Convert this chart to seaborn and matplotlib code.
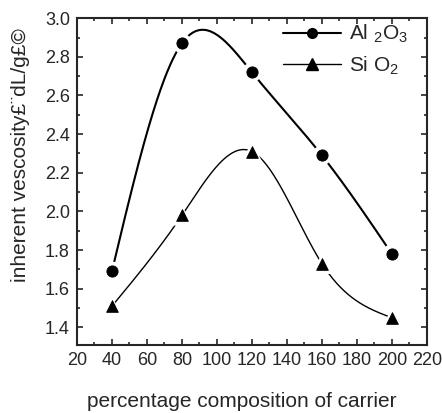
import numpy as np
import pandas as pd
import matplotlib
matplotlib.use("Agg")
import matplotlib.pyplot as plt
import seaborn as sns
from matplotlib.lines import Line2D
from matplotlib.ticker import MultipleLocator

sns.set_style("ticks")
plt.rcParams['font.family'] = ['Liberation Sans', 'DejaVu Sans']
plt.rcParams['mathtext.fontset'] = 'custom'
plt.rcParams['mathtext.rm'] = 'Liberation Sans'
plt.rcParams['mathtext.it'] = 'Liberation Sans'

composition = [40, 80, 120, 160, 200]
al2o3 = [1.69, 2.87, 2.72, 2.29, 1.78]
sio2 = [1.51, 1.98, 2.31, 1.73, 1.45]
x_ticks = [20, 40, 60, 80, 100, 120, 140, 160, 180, 200, 220]
y_ticks = [1.4, 1.6, 1.8, 2.0, 2.2, 2.4, 2.6, 2.8, 3.0]


def natural_spline(x, y, n=300):
    x = np.asarray(x, float)
    y = np.asarray(y, float)
    k = len(x)
    h = np.diff(x)
    A = np.zeros((k, k))
    b = np.zeros(k)
    A[0, 0] = 1
    A[-1, -1] = 1
    for i in range(1, k - 1):
        A[i, i - 1] = h[i - 1]
        A[i, i] = 2 * (h[i - 1] + h[i])
        A[i, i + 1] = h[i]
        b[i] = 6 * ((y[i + 1] - y[i]) / h[i] - (y[i] - y[i - 1]) / h[i - 1])
    M = np.linalg.solve(A, b)
    xs = np.linspace(x[0], x[-1], n)
    ys = np.empty_like(xs)
    for j, xv in enumerate(xs):
        i = min(np.searchsorted(x, xv, side='right') - 1, k - 2)
        t1 = x[i + 1] - xv
        t0 = xv - x[i]
        ys[j] = (M[i] * t1 ** 3 / (6 * h[i]) + M[i + 1] * t0 ** 3 / (6 * h[i])
                 + (y[i] / h[i] - M[i] * h[i] / 6) * t1
                 + (y[i + 1] / h[i] - M[i + 1] * h[i] / 6) * t0)
    return xs, ys


fig = plt.figure(figsize=(4.42, 4.13), dpi=100)
ax = fig.add_axes([0.174, 0.165, 0.792, 0.791])

xs, ys = natural_spline(composition, al2o3)
sns.lineplot(x=xs, y=ys, ax=ax, color='black', linewidth=1.5, sort=False)
xs2, ys2 = natural_spline(composition, sio2)
sns.lineplot(x=xs2, y=ys2, ax=ax, color='black', linewidth=1.0, sort=False)

# white halos to create gaps around markers
sns.scatterplot(x=composition, y=al2o3, ax=ax, marker='o', s=200, color='white',
                edgecolor='none', zorder=3)
sns.scatterplot(x=composition, y=sio2, ax=ax, marker='^', s=220, color='white',
                edgecolor='none', zorder=3)
sns.scatterplot(x=composition, y=al2o3, ax=ax, marker='o', s=65, color='black',
                edgecolor='black', zorder=4)
sns.scatterplot(x=composition, y=sio2, ax=ax, marker='^', s=70, color='black',
                edgecolor='black', zorder=4)

ax.set_xlim(20, 220)
ax.set_ylim(1.31, 3.0)
ax.set_xticks(x_ticks)
ax.set_yticks(y_ticks)
ax.set_xticklabels([str(v) for v in x_ticks])
ax.set_yticklabels([f"{v:.1f}" for v in y_ticks])
ax.xaxis.set_minor_locator(MultipleLocator(10))
ax.yaxis.set_minor_locator(MultipleLocator(0.1))
ax.tick_params(which='both', direction='in', top=True, right=True, width=1.2)
ax.tick_params(which='major', length=4, labelsize=13, pad=5)
ax.tick_params(which='minor', length=2.5)
for s in ax.spines.values():
    s.set_linewidth(1.5)
    s.set_visible(True)

ax.set_xlabel("percentage composition of carrier", fontsize=15)
ax.xaxis.set_label_coords(0.47, -0.145)
ax.set_ylabel("inherent vescosity£¨dL/g£©", fontsize=15)
ax.yaxis.set_label_coords(-0.135, 0.58)

handles = [
    Line2D([], [], color='black', linewidth=1.5, marker='o', markersize=7),
    Line2D([], [], color='black', linewidth=1.0, marker='^', markersize=8),
]
labels = ["Al $_2$O$_3$", "Si O$_2$"]
ax.legend(handles, labels, loc='upper left', frameon=False, fontsize=15,
          handlelength=2.8, handletextpad=0.35, labelspacing=0.45,
          borderaxespad=0.0, borderpad=0.0, bbox_to_anchor=(0.589, 0.985))

fig.savefig("out.png", dpi=100)
